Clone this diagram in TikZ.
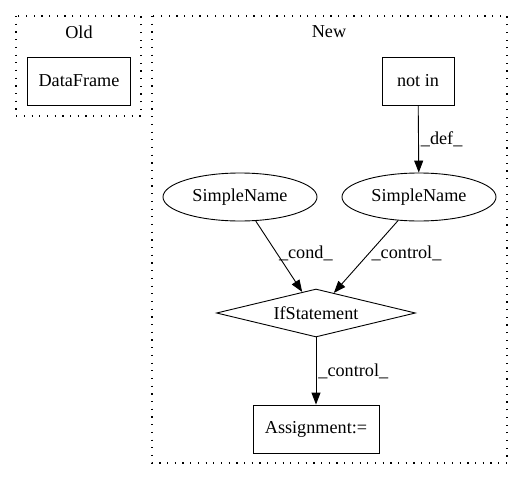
\documentclass[tikz,border=0pt]{standalone}
\usepackage{fontspec}
\setmainfont{Liberation Serif}
\usetikzlibrary{arrows.meta,shapes.geometric}
\tikzset{
  box/.style={draw, rectangle, minimum height=48pt, inner sep=0pt},
  sname/.style={draw, ellipse, minimum width=154pt, minimum height=48pt, inner sep=0pt},
  cond/.style={draw, diamond, aspect=4.15, minimum width=199pt, minimum height=48pt, inner sep=0pt},
  cluster/.style={dash pattern=on 1.2pt off 6.5pt, line width=1.2pt},
  elabel/.style={anchor=west, inner sep=2pt},
}
\begin{document}
\begin{tikzpicture}[x=1pt, y=-1pt, >={Triangle[length=12pt,width=9pt]}, font=\fontsize{18.2}{22}\selectfont, line width=0.9pt]
  \useasboundingbox (0,0) rectangle (523,480);
  % clusters
  \draw[cluster] (16,16) rectangle (141,116);
  \draw[cluster] (152,16) rectangle (507,463);
  \node (old) at (79,32) {Old};
  \node (new) at (329,32) {New};
  % nodes
  \node[box, minimum width=103pt] (dataframe) at (79,81) {DataFrame};
  \node[box, minimum width=72pt] (notin) at (418,81) {not in};
  \node[sname] (sn1) at (240,197) {SimpleName};
  \node[sname] (sn2) at (419,197) {SimpleName};
  \node[cond] (ifst) at (316,313) {IfStatement};
  \node[box, minimum width=126pt] (assign) at (316,429) {Assignment:=};
  % edges
  \draw[->] (notin) -- node[elabel, pos=0.5] {\_def\_} (sn2);
  \draw[->] (sn1) -- node[elabel, pos=0.45] {\_cond\_} (ifst);
  \draw[->] (sn2) -- node[elabel, pos=0.45] {\_control\_} (ifst);
  \draw[->] (ifst) -- node[elabel, pos=0.5] {\_control\_} (assign);
\end{tikzpicture}
\end{document}
